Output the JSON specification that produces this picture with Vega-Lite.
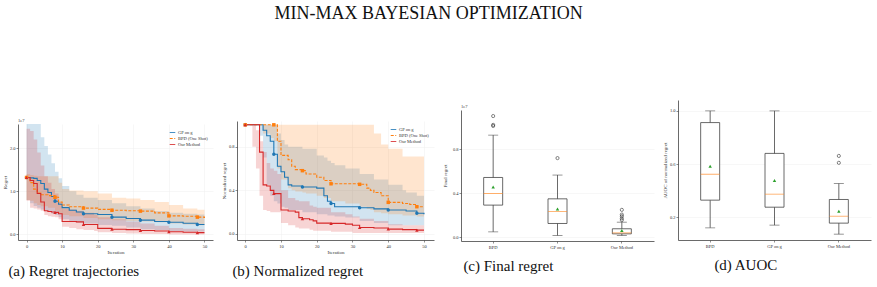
{
  "$schema": "https://vega.github.io/schema/vega-lite/v6.json",
  "padding": {"left": 2, "top": 5, "right": 2, "bottom": 2},
  "title": {"text": "MIN-MAX BAYESIAN OPTIMIZATION", "fontSize": 18, "font": "Liberation Serif", "fontWeight": "normal", "color": "#111", "anchor": "middle", "offset": 77, "dx": -8},
  "spacing": 8,
  "hconcat": [
    {
      "spacing": 0,
      "resolve": {"legend": {"color": "independent", "strokeDash": "independent", "fill": "independent", "shape": "independent"}},
      "title": {"text": "(a) Regret trajectories", "orient": "bottom", "anchor": "start", "frame": "bounds", "dx": 6, "offset": 10, "fontSize": 15, "font": "Liberation Serif", "fontWeight": "normal", "color": "#111"},
      "vconcat": [
        {"width": 195, "height": 17.5, "data": {"values": []}, "mark": "point"},
        {
          "width": 195,
          "height": 116,
          "title": {"text": "1e7", "anchor": "start", "frame": "group", "fontSize": 4.5, "offset": 1.5, "fontWeight": "normal", "color": "#333"},
          "data": {"name": "trajA"},
          "encoding": {
            "x": {"field": "iter", "type": "quantitative", "title": "Iteration",
                  "scale": {"domain": [-2.4, 52.4], "nice": false, "zero": false},
                  "axis": {"values": [0, 10, 20, 30, 40, 50], "grid": true, "titlePadding": 1.5, "labelOverlap": false, "labelFlush": false}}
          },
          "layer": [
            {
              "mark": {"type": "area", "interpolate": "step-after", "opacity": 0.2, "clip": true},
              "encoding": {
                "y": {"field": "lower", "type": "quantitative", "title": "Regret",
                      "scale": {"domain": [-0.13, 2.56], "nice": false, "zero": false},
                      "axis": {"values": [0, 0.5, 1, 1.5, 2, 2.5], "format": ".1f", "grid": true, "labelOverlap": false, "labelFlush": false}},
                "y2": {"field": "upper"},
                "fill": {"field": "method", "type": "nominal",
                         "scale": {"range": ["#ff7f0e", "#1f77b4", "#d62728"]},
                         "legend": null}
              }
            },
            {
              "data": {"values": [{}]},
              "mark": {"type": "rule", "color": "#777", "strokeDash": [2, 2], "strokeWidth": 0.7},
              "encoding": {"y": {"datum": 0, "type": "quantitative"}}
            },
            {
              "mark": {"type": "line", "interpolate": "step-after", "strokeWidth": 1.1},
              "encoding": {
                "y": {"field": "mean", "type": "quantitative", "title": "Regret"},
                "color": {"field": "method", "type": "nominal",
                          "scale": {"domain": ["GP on g", "BPD (One Shot)", "Our Method"], "range": ["#1f77b4", "#ff7f0e", "#d62728"]},
                          "legend": {"title": null, "orient": "top-right", "offset": 4, "symbolType": "stroke", "symbolSize": 30, "symbolStrokeWidth": 1, "labelFontSize": 4.5, "labelColor": "#333", "rowPadding": -1, "labelOffset": 2, "padding": 1}},
                "strokeDash": {"field": "method", "type": "nominal",
                               "scale": {"domain": ["GP on g", "BPD (One Shot)", "Our Method"], "range": [[1, 0], [3, 1.5], [1, 0]]},
                               "legend": {"title": null, "orient": "top-right", "offset": 4, "symbolType": "stroke", "symbolSize": 30, "symbolStrokeWidth": 1, "labelFontSize": 4.5, "labelColor": "#333", "rowPadding": -1, "labelOffset": 2, "padding": 1}}
              }
            },
            {
              "transform": [{"filter": "datum.iter % 8 === 0"}],
              "mark": {"type": "point", "filled": true, "size": 12, "opacity": 1},
              "encoding": {
                "y": {"field": "mean", "type": "quantitative", "title": "Regret"},
                "fill": {"field": "method", "type": "nominal", "legend": null},
                "shape": {"field": "method", "type": "nominal",
                          "scale": {"range": ["square", "circle", "triangle-up"]},
                          "legend": null}
              }
            }
          ]
        }
      ]
    },
    {
      "spacing": 0,
      "resolve": {"legend": {"color": "independent", "strokeDash": "independent", "fill": "independent", "shape": "independent"}},
      "title": {"text": "(b) Normalized regret", "orient": "bottom", "anchor": "start", "frame": "bounds", "dx": 11, "offset": 10, "fontSize": 15, "font": "Liberation Serif", "fontWeight": "normal", "color": "#111"},
      "vconcat": [
        {"width": 197, "height": 21, "data": {"values": []}, "mark": "point"},
        {
          "width": 197,
          "height": 119,
          "data": {"name": "trajB"},
          "encoding": {
            "x": {"field": "iter", "type": "quantitative", "title": "Iteration",
                  "scale": {"domain": [-2.3, 52.8], "nice": false, "zero": false},
                  "axis": {"values": [0, 10, 20, 30, 40, 50], "grid": true, "titlePadding": 1.5, "labelOverlap": false, "labelFlush": false}}
          },
          "layer": [
            {
              "mark": {"type": "area", "interpolate": "step-after", "opacity": 0.2, "clip": true},
              "encoding": {
                "y": {"field": "lower", "type": "quantitative", "title": "Normalized regret",
                      "scale": {"domain": [-0.055, 1.035], "nice": false, "zero": false},
                      "axis": {"values": [0, 0.2, 0.4, 0.6, 0.8, 1.0], "format": ".1f", "grid": true, "labelOverlap": false, "labelFlush": false}},
                "y2": {"field": "upper"},
                "fill": {"field": "method", "type": "nominal",
                         "scale": {"range": ["#ff7f0e", "#1f77b4", "#d62728"]},
                         "legend": null}
              }
            },
            {
              "data": {"values": [{}]},
              "mark": {"type": "rule", "color": "#777", "strokeDash": [2, 2], "strokeWidth": 0.7},
              "encoding": {"y": {"datum": 0, "type": "quantitative"}}
            },
            {
              "mark": {"type": "line", "interpolate": "step-after", "strokeWidth": 1.1},
              "encoding": {
                "y": {"field": "mean", "type": "quantitative", "title": "Normalized regret"},
                "color": {"field": "method", "type": "nominal",
                          "scale": {"domain": ["GP on g", "BPD (One Shot)", "Our Method"], "range": ["#1f77b4", "#ff7f0e", "#d62728"]},
                          "legend": {"title": null, "orient": "top-right", "offset": 4, "symbolType": "stroke", "symbolSize": 30, "symbolStrokeWidth": 1, "labelFontSize": 4.5, "labelColor": "#333", "rowPadding": -1, "labelOffset": 2, "padding": 1}},
                "strokeDash": {"field": "method", "type": "nominal",
                               "scale": {"domain": ["GP on g", "BPD (One Shot)", "Our Method"], "range": [[1, 0], [3, 1.5], [1, 0]]},
                               "legend": {"title": null, "orient": "top-right", "offset": 4, "symbolType": "stroke", "symbolSize": 30, "symbolStrokeWidth": 1, "labelFontSize": 4.5, "labelColor": "#333", "rowPadding": -1, "labelOffset": 2, "padding": 1}}
              }
            },
            {
              "transform": [{"filter": "datum.iter % 8 === 0"}],
              "mark": {"type": "point", "filled": true, "size": 12, "opacity": 1},
              "encoding": {
                "y": {"field": "mean", "type": "quantitative", "title": "Normalized regret"},
                "fill": {"field": "method", "type": "nominal", "legend": null},
                "shape": {"field": "method", "type": "nominal",
                          "scale": {"range": ["square", "circle", "triangle-up"]},
                          "legend": null}
              }
            }
          ]
        }
      ]
    },
    {
      "spacing": 0,
      "title": {"text": "(c) Final regret", "orient": "bottom", "anchor": "start", "frame": "bounds", "dx": 21, "offset": 10, "fontSize": 15, "font": "Liberation Serif", "fontWeight": "normal", "color": "#111"},
      "vconcat": [
        {"width": 193, "height": 3.5, "data": {"values": []}, "mark": "point"},
        {
          "width": 193,
          "height": 131,
          "title": {"text": "1e7", "anchor": "start", "frame": "group", "fontSize": 4.5, "offset": 1.5, "fontWeight": "normal", "color": "#333"},
          "encoding": {
            "x": {"field": "method", "type": "nominal", "title": null,
                  "scale": {"type": "band", "domain": ["BPD", "GP on g", "Our Method"], "paddingInner": 0, "paddingOuter": 0},
                  "axis": {"labelAngle": 0, "grid": false, "labelOverlap": false}}
          },
          "layer": [
            {
              "data": {"name": "boxC"},
              "mark": {"type": "rule", "color": "#444", "strokeWidth": 0.8},
              "encoding": {
                "y": {"field": "lo", "type": "quantitative", "title": "Final regret",
                      "scale": {"domain": [-0.035, 1.155], "nice": false, "zero": false},
                      "axis": {"values": [0, 0.2, 0.4, 0.6, 0.8, 1.0], "format": ".1f", "grid": true, "titlePadding": 5, "labelOverlap": false, "labelFlush": false}},
                "y2": {"field": "hi"}
              }
            },
            {
              "data": {"name": "boxC"},
              "mark": {"type": "bar", "width": 19, "fill": "white", "stroke": "#444", "strokeWidth": 0.8},
              "encoding": {"y": {"field": "q1", "type": "quantitative", "title": "Final regret"}, "y2": {"field": "q3"}}
            },
            {
              "data": {"name": "boxC"},
              "mark": {"type": "tick", "orient": "horizontal", "size": 10, "thickness": 0.8, "color": "#444"},
              "encoding": {"y": {"field": "lo", "type": "quantitative", "title": "Final regret"}}
            },
            {
              "data": {"name": "boxC"},
              "mark": {"type": "tick", "orient": "horizontal", "size": 10, "thickness": 0.8, "color": "#444"},
              "encoding": {"y": {"field": "hi", "type": "quantitative", "title": "Final regret"}}
            },
            {
              "data": {"name": "boxC"},
              "mark": {"type": "tick", "orient": "horizontal", "size": 19, "thickness": 0.9, "color": "#ff8c2a"},
              "encoding": {"y": {"field": "med", "type": "quantitative", "title": "Final regret"}}
            },
            {
              "data": {"name": "boxC"},
              "mark": {"type": "point", "shape": "triangle-up", "filled": true, "color": "#2ca02c", "size": 12, "opacity": 1},
              "encoding": {"y": {"field": "mean", "type": "quantitative", "title": "Final regret"}}
            },
            {
              "data": {"name": "outC"},
              "mark": {"type": "point", "shape": "circle", "filled": false, "color": "#333", "size": 10, "strokeWidth": 0.6, "opacity": 1},
              "encoding": {"y": {"field": "value", "type": "quantitative", "title": "Final regret"}}
            }
          ]
        }
      ]
    },
    {
      "spacing": 0,
      "title": {"text": "(d) AUOC", "orient": "bottom", "anchor": "start", "frame": "bounds", "dx": 52, "offset": 10, "fontSize": 15, "font": "Liberation Serif", "fontWeight": "normal", "color": "#111"},
      "vconcat": [
        {
          "width": 193,
          "height": 140,
          "encoding": {
            "x": {"field": "method", "type": "nominal", "title": null,
                  "scale": {"type": "band", "domain": ["BPD", "GP on g", "Our Method"], "paddingInner": 0, "paddingOuter": 0},
                  "axis": {"labelAngle": 0, "grid": false, "labelOverlap": false}}
          },
          "layer": [
            {
              "data": {"name": "boxD"},
              "mark": {"type": "rule", "color": "#444", "strokeWidth": 0.8},
              "encoding": {
                "y": {"field": "lo", "type": "quantitative", "title": "AUOC of normalized regret",
                      "scale": {"domain": [0.028, 1.082], "nice": false, "zero": false},
                      "axis": {"values": [0.2, 0.4, 0.6, 0.8, 1.0], "format": ".1f", "grid": true, "labelOverlap": false, "labelFlush": false}},
                "y2": {"field": "hi"}
              }
            },
            {
              "data": {"name": "boxD"},
              "mark": {"type": "bar", "width": 19, "fill": "white", "stroke": "#444", "strokeWidth": 0.8},
              "encoding": {"y": {"field": "q1", "type": "quantitative", "title": "AUOC of normalized regret"}, "y2": {"field": "q3"}}
            },
            {
              "data": {"name": "boxD"},
              "mark": {"type": "tick", "orient": "horizontal", "size": 10, "thickness": 0.8, "color": "#444"},
              "encoding": {"y": {"field": "lo", "type": "quantitative", "title": "AUOC of normalized regret"}}
            },
            {
              "data": {"name": "boxD"},
              "mark": {"type": "tick", "orient": "horizontal", "size": 10, "thickness": 0.8, "color": "#444"},
              "encoding": {"y": {"field": "hi", "type": "quantitative", "title": "AUOC of normalized regret"}}
            },
            {
              "data": {"name": "boxD"},
              "mark": {"type": "tick", "orient": "horizontal", "size": 19, "thickness": 0.9, "color": "#ff8c2a"},
              "encoding": {"y": {"field": "med", "type": "quantitative", "title": "AUOC of normalized regret"}}
            },
            {
              "data": {"name": "boxD"},
              "mark": {"type": "point", "shape": "triangle-up", "filled": true, "color": "#2ca02c", "size": 12, "opacity": 1},
              "encoding": {"y": {"field": "mean", "type": "quantitative", "title": "AUOC of normalized regret"}}
            },
            {
              "data": {"name": "outD"},
              "mark": {"type": "point", "shape": "circle", "filled": false, "color": "#333", "size": 10, "strokeWidth": 0.6, "opacity": 1},
              "encoding": {"y": {"field": "value", "type": "quantitative", "title": "AUOC of normalized regret"}}
            }
          ]
        }
      ]
    }
  ],
  "datasets": {
    "trajA": [
      {"method": "GP on g", "iter": 0, "mean": 1.32, "lower": 0.8, "upper": 2.56},
      {"method": "GP on g", "iter": 1, "mean": 1.31, "lower": 0.72, "upper": 2.56},
      {"method": "GP on g", "iter": 2, "mean": 1.3, "lower": 0.66, "upper": 2.56},
      {"method": "GP on g", "iter": 3, "mean": 1.25, "lower": 0.62, "upper": 2.56},
      {"method": "GP on g", "iter": 4, "mean": 1.18, "lower": 0.58, "upper": 2.25},
      {"method": "GP on g", "iter": 5, "mean": 1.05, "lower": 0.55, "upper": 2.05},
      {"method": "GP on g", "iter": 6, "mean": 0.97, "lower": 0.52, "upper": 1.85},
      {"method": "GP on g", "iter": 7, "mean": 0.88, "lower": 0.48, "upper": 1.65},
      {"method": "GP on g", "iter": 8, "mean": 0.77, "lower": 0.45, "upper": 1.45},
      {"method": "GP on g", "iter": 9, "mean": 0.7, "lower": 0.4, "upper": 1.3},
      {"method": "GP on g", "iter": 10, "mean": 0.62, "lower": 0.35, "upper": 1.12},
      {"method": "GP on g", "iter": 12, "mean": 0.56, "lower": 0.3, "upper": 1.0},
      {"method": "GP on g", "iter": 14, "mean": 0.52, "lower": 0.27, "upper": 0.92},
      {"method": "GP on g", "iter": 16, "mean": 0.48, "lower": 0.25, "upper": 0.85},
      {"method": "GP on g", "iter": 20, "mean": 0.46, "lower": 0.22, "upper": 0.8},
      {"method": "GP on g", "iter": 24, "mean": 0.4, "lower": 0.2, "upper": 0.72},
      {"method": "GP on g", "iter": 28, "mean": 0.37, "lower": 0.16, "upper": 0.65},
      {"method": "GP on g", "iter": 32, "mean": 0.33, "lower": 0.12, "upper": 0.6},
      {"method": "GP on g", "iter": 36, "mean": 0.3, "lower": 0.1, "upper": 0.54},
      {"method": "GP on g", "iter": 40, "mean": 0.28, "lower": 0.08, "upper": 0.5},
      {"method": "GP on g", "iter": 44, "mean": 0.26, "lower": 0.07, "upper": 0.48},
      {"method": "GP on g", "iter": 48, "mean": 0.23, "lower": 0.07, "upper": 0.46},
      {"method": "GP on g", "iter": 50, "mean": 0.23, "lower": 0.07, "upper": 0.45},
      {"method": "BPD (One Shot)", "iter": 0, "mean": 1.32, "lower": 0.8, "upper": 1.4},
      {"method": "BPD (One Shot)", "iter": 1, "mean": 1.2, "lower": 0.78, "upper": 1.38},
      {"method": "BPD (One Shot)", "iter": 2, "mean": 1.05, "lower": 0.72, "upper": 1.36},
      {"method": "BPD (One Shot)", "iter": 3, "mean": 0.96, "lower": 0.68, "upper": 1.35},
      {"method": "BPD (One Shot)", "iter": 4, "mean": 0.92, "lower": 0.65, "upper": 1.35},
      {"method": "BPD (One Shot)", "iter": 6, "mean": 0.9, "lower": 0.62, "upper": 1.35},
      {"method": "BPD (One Shot)", "iter": 8, "mean": 0.86, "lower": 0.55, "upper": 1.35},
      {"method": "BPD (One Shot)", "iter": 9, "mean": 0.75, "lower": 0.48, "upper": 1.2},
      {"method": "BPD (One Shot)", "iter": 10, "mean": 0.68, "lower": 0.45, "upper": 1.05},
      {"method": "BPD (One Shot)", "iter": 12, "mean": 0.64, "lower": 0.42, "upper": 1.02},
      {"method": "BPD (One Shot)", "iter": 16, "mean": 0.61, "lower": 0.38, "upper": 1.0},
      {"method": "BPD (One Shot)", "iter": 20, "mean": 0.58, "lower": 0.35, "upper": 0.95},
      {"method": "BPD (One Shot)", "iter": 24, "mean": 0.56, "lower": 0.33, "upper": 0.85},
      {"method": "BPD (One Shot)", "iter": 28, "mean": 0.55, "lower": 0.31, "upper": 0.83},
      {"method": "BPD (One Shot)", "iter": 32, "mean": 0.54, "lower": 0.3, "upper": 0.8},
      {"method": "BPD (One Shot)", "iter": 36, "mean": 0.5, "lower": 0.28, "upper": 0.75},
      {"method": "BPD (One Shot)", "iter": 40, "mean": 0.43, "lower": 0.25, "upper": 0.68},
      {"method": "BPD (One Shot)", "iter": 44, "mean": 0.42, "lower": 0.23, "upper": 0.6},
      {"method": "BPD (One Shot)", "iter": 48, "mean": 0.4, "lower": 0.21, "upper": 0.57},
      {"method": "BPD (One Shot)", "iter": 50, "mean": 0.38, "lower": 0.2, "upper": 0.57},
      {"method": "Our Method", "iter": 0, "mean": 1.32, "lower": 0.78, "upper": 2.45},
      {"method": "Our Method", "iter": 1, "mean": 1.25, "lower": 0.62, "upper": 2.4},
      {"method": "Our Method", "iter": 2, "mean": 1.18, "lower": 0.6, "upper": 2.2},
      {"method": "Our Method", "iter": 3, "mean": 0.95, "lower": 0.58, "upper": 1.9},
      {"method": "Our Method", "iter": 4, "mean": 0.75, "lower": 0.55, "upper": 1.6},
      {"method": "Our Method", "iter": 5, "mean": 0.55, "lower": 0.45, "upper": 1.35},
      {"method": "Our Method", "iter": 6, "mean": 0.53, "lower": 0.42, "upper": 1.2},
      {"method": "Our Method", "iter": 7, "mean": 0.52, "lower": 0.41, "upper": 1.05},
      {"method": "Our Method", "iter": 8, "mean": 0.51, "lower": 0.4, "upper": 0.95},
      {"method": "Our Method", "iter": 9, "mean": 0.48, "lower": 0.35, "upper": 0.75},
      {"method": "Our Method", "iter": 10, "mean": 0.3, "lower": 0.18, "upper": 0.6},
      {"method": "Our Method", "iter": 12, "mean": 0.3, "lower": 0.15, "upper": 0.58},
      {"method": "Our Method", "iter": 14, "mean": 0.29, "lower": 0.12, "upper": 0.55},
      {"method": "Our Method", "iter": 16, "mean": 0.23, "lower": 0.1, "upper": 0.5},
      {"method": "Our Method", "iter": 19, "mean": 0.23, "lower": 0.08, "upper": 0.45},
      {"method": "Our Method", "iter": 20, "mean": 0.14, "lower": 0.05, "upper": 0.4},
      {"method": "Our Method", "iter": 24, "mean": 0.12, "lower": 0.03, "upper": 0.35},
      {"method": "Our Method", "iter": 28, "mean": 0.11, "lower": 0.02, "upper": 0.3},
      {"method": "Our Method", "iter": 32, "mean": 0.09, "lower": 0.01, "upper": 0.25},
      {"method": "Our Method", "iter": 36, "mean": 0.08, "lower": 0.01, "upper": 0.2},
      {"method": "Our Method", "iter": 40, "mean": 0.06, "lower": 0.0, "upper": 0.15},
      {"method": "Our Method", "iter": 44, "mean": 0.05, "lower": 0.0, "upper": 0.13},
      {"method": "Our Method", "iter": 48, "mean": 0.04, "lower": 0.0, "upper": 0.12},
      {"method": "Our Method", "iter": 50, "mean": 0.04, "lower": 0.0, "upper": 0.12}
    ],
    "trajB": [
      {"method": "GP on g", "iter": 0, "mean": 1.0, "lower": 1.0, "upper": 1.0},
      {"method": "GP on g", "iter": 4, "mean": 1.0, "lower": 0.9, "upper": 1.0},
      {"method": "GP on g", "iter": 5, "mean": 0.95, "lower": 0.7, "upper": 1.0},
      {"method": "GP on g", "iter": 6, "mean": 0.9, "lower": 0.45, "upper": 1.0},
      {"method": "GP on g", "iter": 7, "mean": 0.85, "lower": 0.35, "upper": 1.0},
      {"method": "GP on g", "iter": 8, "mean": 0.73, "lower": 0.3, "upper": 1.0},
      {"method": "GP on g", "iter": 9, "mean": 0.62, "lower": 0.28, "upper": 0.92},
      {"method": "GP on g", "iter": 10, "mean": 0.57, "lower": 0.25, "upper": 0.86},
      {"method": "GP on g", "iter": 11, "mean": 0.52, "lower": 0.24, "upper": 0.82},
      {"method": "GP on g", "iter": 12, "mean": 0.45, "lower": 0.22, "upper": 0.8},
      {"method": "GP on g", "iter": 13, "mean": 0.44, "lower": 0.22, "upper": 0.8},
      {"method": "GP on g", "iter": 16, "mean": 0.43, "lower": 0.2, "upper": 0.78},
      {"method": "GP on g", "iter": 20, "mean": 0.42, "lower": 0.18, "upper": 0.72},
      {"method": "GP on g", "iter": 22, "mean": 0.35, "lower": 0.18, "upper": 0.7},
      {"method": "GP on g", "iter": 23, "mean": 0.3, "lower": 0.17, "upper": 0.67},
      {"method": "GP on g", "iter": 24, "mean": 0.28, "lower": 0.17, "upper": 0.65},
      {"method": "GP on g", "iter": 25, "mean": 0.25, "lower": 0.16, "upper": 0.63},
      {"method": "GP on g", "iter": 28, "mean": 0.25, "lower": 0.15, "upper": 0.6},
      {"method": "GP on g", "iter": 32, "mean": 0.24, "lower": 0.12, "upper": 0.55},
      {"method": "GP on g", "iter": 36, "mean": 0.23, "lower": 0.1, "upper": 0.5},
      {"method": "GP on g", "iter": 40, "mean": 0.22, "lower": 0.08, "upper": 0.45},
      {"method": "GP on g", "iter": 44, "mean": 0.22, "lower": 0.08, "upper": 0.4},
      {"method": "GP on g", "iter": 45, "mean": 0.21, "lower": 0.08, "upper": 0.38},
      {"method": "GP on g", "iter": 48, "mean": 0.19, "lower": 0.08, "upper": 0.35},
      {"method": "GP on g", "iter": 50, "mean": 0.18, "lower": 0.08, "upper": 0.33},
      {"method": "BPD (One Shot)", "iter": 0, "mean": 1.0, "lower": 1.0, "upper": 1.0},
      {"method": "BPD (One Shot)", "iter": 5, "mean": 1.0, "lower": 0.92, "upper": 1.0},
      {"method": "BPD (One Shot)", "iter": 7, "mean": 1.0, "lower": 0.88, "upper": 1.0},
      {"method": "BPD (One Shot)", "iter": 8, "mean": 1.0, "lower": 0.85, "upper": 1.0},
      {"method": "BPD (One Shot)", "iter": 9, "mean": 0.85, "lower": 0.6, "upper": 1.0},
      {"method": "BPD (One Shot)", "iter": 10, "mean": 0.72, "lower": 0.5, "upper": 1.0},
      {"method": "BPD (One Shot)", "iter": 12, "mean": 0.68, "lower": 0.42, "upper": 1.0},
      {"method": "BPD (One Shot)", "iter": 13, "mean": 0.62, "lower": 0.4, "upper": 1.0},
      {"method": "BPD (One Shot)", "iter": 14, "mean": 0.59, "lower": 0.39, "upper": 1.0},
      {"method": "BPD (One Shot)", "iter": 16, "mean": 0.58, "lower": 0.38, "upper": 1.0},
      {"method": "BPD (One Shot)", "iter": 17, "mean": 0.55, "lower": 0.37, "upper": 1.0},
      {"method": "BPD (One Shot)", "iter": 20, "mean": 0.52, "lower": 0.35, "upper": 1.0},
      {"method": "BPD (One Shot)", "iter": 22, "mean": 0.49, "lower": 0.33, "upper": 1.0},
      {"method": "BPD (One Shot)", "iter": 24, "mean": 0.46, "lower": 0.3, "upper": 1.0},
      {"method": "BPD (One Shot)", "iter": 28, "mean": 0.46, "lower": 0.28, "upper": 1.0},
      {"method": "BPD (One Shot)", "iter": 32, "mean": 0.455, "lower": 0.25, "upper": 1.0},
      {"method": "BPD (One Shot)", "iter": 34, "mean": 0.42, "lower": 0.23, "upper": 1.0},
      {"method": "BPD (One Shot)", "iter": 35, "mean": 0.4, "lower": 0.22, "upper": 1.0},
      {"method": "BPD (One Shot)", "iter": 36, "mean": 0.38, "lower": 0.2, "upper": 0.92},
      {"method": "BPD (One Shot)", "iter": 38, "mean": 0.35, "lower": 0.19, "upper": 0.82},
      {"method": "BPD (One Shot)", "iter": 40, "mean": 0.29, "lower": 0.18, "upper": 0.78},
      {"method": "BPD (One Shot)", "iter": 44, "mean": 0.28, "lower": 0.17, "upper": 0.71},
      {"method": "BPD (One Shot)", "iter": 46, "mean": 0.27, "lower": 0.17, "upper": 0.71},
      {"method": "BPD (One Shot)", "iter": 48, "mean": 0.25, "lower": 0.16, "upper": 0.71},
      {"method": "BPD (One Shot)", "iter": 50, "mean": 0.25, "lower": 0.16, "upper": 0.71},
      {"method": "Our Method", "iter": 0, "mean": 1.0, "lower": 1.0, "upper": 1.0},
      {"method": "Our Method", "iter": 2, "mean": 1.0, "lower": 0.8, "upper": 1.0},
      {"method": "Our Method", "iter": 3, "mean": 1.0, "lower": 0.6, "upper": 0.95},
      {"method": "Our Method", "iter": 4, "mean": 0.75, "lower": 0.35, "upper": 0.85},
      {"method": "Our Method", "iter": 5, "mean": 0.45, "lower": 0.22, "upper": 0.75},
      {"method": "Our Method", "iter": 6, "mean": 0.44, "lower": 0.21, "upper": 0.65},
      {"method": "Our Method", "iter": 7, "mean": 0.4, "lower": 0.2, "upper": 0.6},
      {"method": "Our Method", "iter": 8, "mean": 0.37, "lower": 0.2, "upper": 0.58},
      {"method": "Our Method", "iter": 9, "mean": 0.37, "lower": 0.2, "upper": 0.55},
      {"method": "Our Method", "iter": 10, "mean": 0.22, "lower": 0.1, "upper": 0.4},
      {"method": "Our Method", "iter": 12, "mean": 0.21, "lower": 0.08, "upper": 0.33},
      {"method": "Our Method", "iter": 14, "mean": 0.2, "lower": 0.06, "upper": 0.31},
      {"method": "Our Method", "iter": 15, "mean": 0.15, "lower": 0.05, "upper": 0.3},
      {"method": "Our Method", "iter": 16, "mean": 0.14, "lower": 0.05, "upper": 0.3},
      {"method": "Our Method", "iter": 18, "mean": 0.13, "lower": 0.04, "upper": 0.26},
      {"method": "Our Method", "iter": 19, "mean": 0.12, "lower": 0.03, "upper": 0.25},
      {"method": "Our Method", "iter": 20, "mean": 0.1, "lower": 0.03, "upper": 0.24},
      {"method": "Our Method", "iter": 24, "mean": 0.097, "lower": 0.02, "upper": 0.2},
      {"method": "Our Method", "iter": 28, "mean": 0.09, "lower": 0.02, "upper": 0.18},
      {"method": "Our Method", "iter": 30, "mean": 0.08, "lower": 0.01, "upper": 0.16},
      {"method": "Our Method", "iter": 32, "mean": 0.06, "lower": 0.01, "upper": 0.14},
      {"method": "Our Method", "iter": 36, "mean": 0.055, "lower": 0.01, "upper": 0.12},
      {"method": "Our Method", "iter": 40, "mean": 0.045, "lower": 0.01, "upper": 0.09},
      {"method": "Our Method", "iter": 44, "mean": 0.04, "lower": 0.01, "upper": 0.08},
      {"method": "Our Method", "iter": 48, "mean": 0.035, "lower": 0.01, "upper": 0.08},
      {"method": "Our Method", "iter": 50, "mean": 0.035, "lower": 0.01, "upper": 0.08}
    ],
    "boxC": [
      {"method": "BPD", "lo": 0.048, "q1": 0.291, "med": 0.397, "q3": 0.542, "hi": 0.927, "mean": 0.455},
      {"method": "GP on g", "lo": 0.015, "q1": 0.124, "med": 0.233, "q3": 0.348, "hi": 0.564, "mean": 0.255},
      {"method": "Our Method", "lo": 0.015, "q1": 0.03, "med": 0.039, "q3": 0.076, "hi": 0.136, "mean": 0.06}
    ],
    "outC": [
      {"method": "BPD", "value": 1.1},
      {"method": "BPD", "value": 1.02},
      {"method": "BPD", "value": 1.01},
      {"method": "GP on g", "value": 0.718},
      {"method": "Our Method", "value": 0.248},
      {"method": "Our Method", "value": 0.205},
      {"method": "Our Method", "value": 0.19},
      {"method": "Our Method", "value": 0.17},
      {"method": "Our Method", "value": 0.155}
    ],
    "boxD": [
      {"method": "BPD", "lo": 0.12, "q1": 0.328, "med": 0.523, "q3": 0.912, "hi": 1.0, "mean": 0.584},
      {"method": "GP on g", "lo": 0.14, "q1": 0.275, "med": 0.373, "q3": 0.68, "hi": 1.0, "mean": 0.476},
      {"method": "Our Method", "lo": 0.072, "q1": 0.155, "med": 0.207, "q3": 0.333, "hi": 0.453, "mean": 0.245}
    ],
    "outD": [
      {"method": "Our Method", "value": 0.661},
      {"method": "Our Method", "value": 0.609}
    ]
  },
  "config": {
    "font": "Liberation Serif",
    "view": {"stroke": null},
    "axis": {
      "domainColor": "#444", "domainWidth": 0.8,
      "tickColor": "#444", "tickWidth": 0.6, "tickSize": 2,
      "labelFont": "Liberation Serif", "labelFontSize": 4.5, "labelColor": "#333", "labelPadding": 1,
      "titleFont": "Liberation Serif", "titleFontSize": 5, "titleFontWeight": "normal", "titleColor": "#333", "titlePadding": 2,
      "gridColor": "#efefef", "gridWidth": 0.5
    },
    "legend": {"labelFont": "Liberation Serif"},
    "title": {"font": "Liberation Serif", "fontWeight": "normal"}
  }
}
